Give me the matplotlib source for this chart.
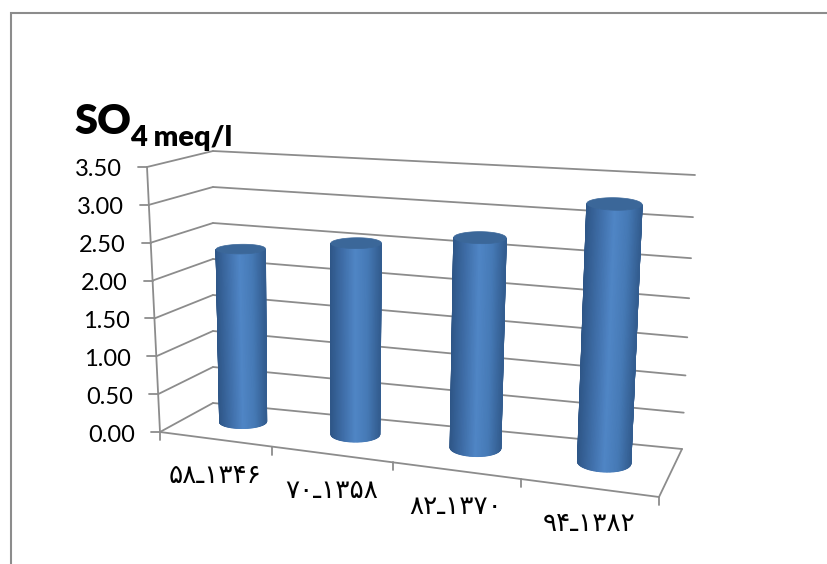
import numpy as np
import matplotlib
matplotlib.use('Agg')
import matplotlib.pyplot as plt
from matplotlib.colors import LinearSegmentedColormap

periods = ['۵۸ـ۱۳۴۶', '۷۰ـ۱۳۵۸', '۸۲ـ۱۳۷۰', '۹۴ـ۱۳۸۲']
so4_values = [2.33, 2.54, 2.74, 3.27]
y_ticks = [0.0, 0.5, 1.0, 1.5, 2.0, 2.5, 3.0, 3.5]
y_max = 3.5

# corners of the 3D box in pixels: (across, height, depth)
box = {
    (0, 0, 0): (160, 432), (1, 0, 0): (659, 497),
    (0, 1, 0): (147, 167), (1, 1, 0): (674, 206),
    (0, 0, 1): (213, 403), (1, 0, 1): (682, 449),
    (0, 1, 1): (213, 151), (1, 1, 1): (695, 175),
}
line_color = '#8c8c8c'
side_cmap = LinearSegmentedColormap.from_list(
    'cyl', ['#2f5788', '#3f6ea8', '#5086c6', '#467ab6', '#335d90'])


def project(u, v, w):
    # perspective squeeze along both axes, then interpolate the box
    u = np.asarray(u, dtype=float)
    s = u / (u + 1.146 * (1 - u))
    h = np.asarray(v, dtype=float) / y_max
    h = h / (h + (1 + 0.09 * s) * (1 - h))
    w = np.asarray(w, dtype=float)
    x, y = 0, 0
    for (a, b, c), (px, py) in box.items():
        k = (s if a else 1 - s) * (h if b else 1 - h) * (w if c else 1 - w)
        x = x + k * px
        y = y + k * py
    return x, y


def seg(ax, p, q, lw=1.3):
    ax.plot([p[0], q[0]], [p[1], q[1]], color=line_color, lw=lw,
            solid_capstyle='round', zorder=1)


def cylinder(ax, uc, value, wc=0.56, ru=0.049, rw=0.2):
    t = np.linspace(0, 2 * np.pi, 361)
    px, _ = project(uc + ru * np.cos(t), 0, wc + rw * np.sin(t))
    t0, t1 = t[np.argmin(px)], t[np.argmax(px)]
    if t1 < t0:
        t1 += 2 * np.pi
    ts = np.linspace(t0, t1, 60)
    u, w = uc + ru * np.cos(ts), wc + rw * np.sin(ts)
    bx, by = project(u, 0, w)
    tx, ty = project(u, value, w)
    # smooth shading round the visible side of the cylinder
    shade = (bx - bx[0]) / (bx[-1] - bx[0])
    ax.pcolormesh(np.vstack([bx, tx]), np.vstack([by, ty]),
                  np.vstack([shade, shade]), cmap=side_cmap, vmin=0, vmax=1,
                  shading='gouraud', zorder=3)
    ex, ey = project(uc + ru * np.cos(t), value, wc + rw * np.sin(t))
    ax.fill(ex, ey, color='#3b6799', lw=0.5, zorder=4)


fig = plt.figure(figsize=(8.27, 5.64), dpi=100)
ax = fig.add_axes([0, 0, 1, 1])
ax.set_xlim(0, 827)
ax.set_ylim(564, 0)
ax.axis('off')

# outer chart border
ax.plot([10.5, 10.5, 827], [564, 12.5, 12.5], color=line_color, lw=1.5,
        solid_joinstyle='miter')

# walls, gridlines and value labels
for v in y_ticks:
    front = project(0, v, 0)
    back_l = project(0, v, 1)
    back_r = project(1, v, 1)
    seg(ax, front, back_l)
    seg(ax, back_l, back_r)
    seg(ax, (front[0] - 9, front[1]), front)
    ax.text(front[0] - 25, front[1] + 3, '%.2f' % v, ha='right', va='center',
            fontsize=17, family='Lato', color='black')
seg(ax, project(0, 0, 0), project(0, y_max, 0))

# floor edges and category ticks
seg(ax, project(0, 0, 0), project(1, 0, 0))
seg(ax, project(1, 0, 0), project(1, 0, 1))
for u in np.linspace(0, 1, len(periods) + 1):
    x0, y0 = project(u, 0, 0)
    seg(ax, (x0, y0), (x0, y0 + 8))

for i, val in enumerate(so4_values):
    cylinder(ax, (i + 0.5) / len(periods), val)

# category labels sit under the front edge, stepping down with it
for i, lab in enumerate(periods):
    x0, y0 = project((i + 0.5) / len(periods), 0, 0)
    ax.text(x0, y0 + 36.5, lab, ha='center', va='center',
            fontsize=19, family='DejaVu Sans', color='black')

ax.text(74, 134, 'SO', fontsize=30, fontweight='heavy', family='Lato',
        ha='left', va='baseline')
ax.text(130, 146, '4 meq/l', fontsize=21, fontweight='heavy', family='Lato',
        ha='left', va='baseline')

fig.savefig('out.png', dpi=100)
